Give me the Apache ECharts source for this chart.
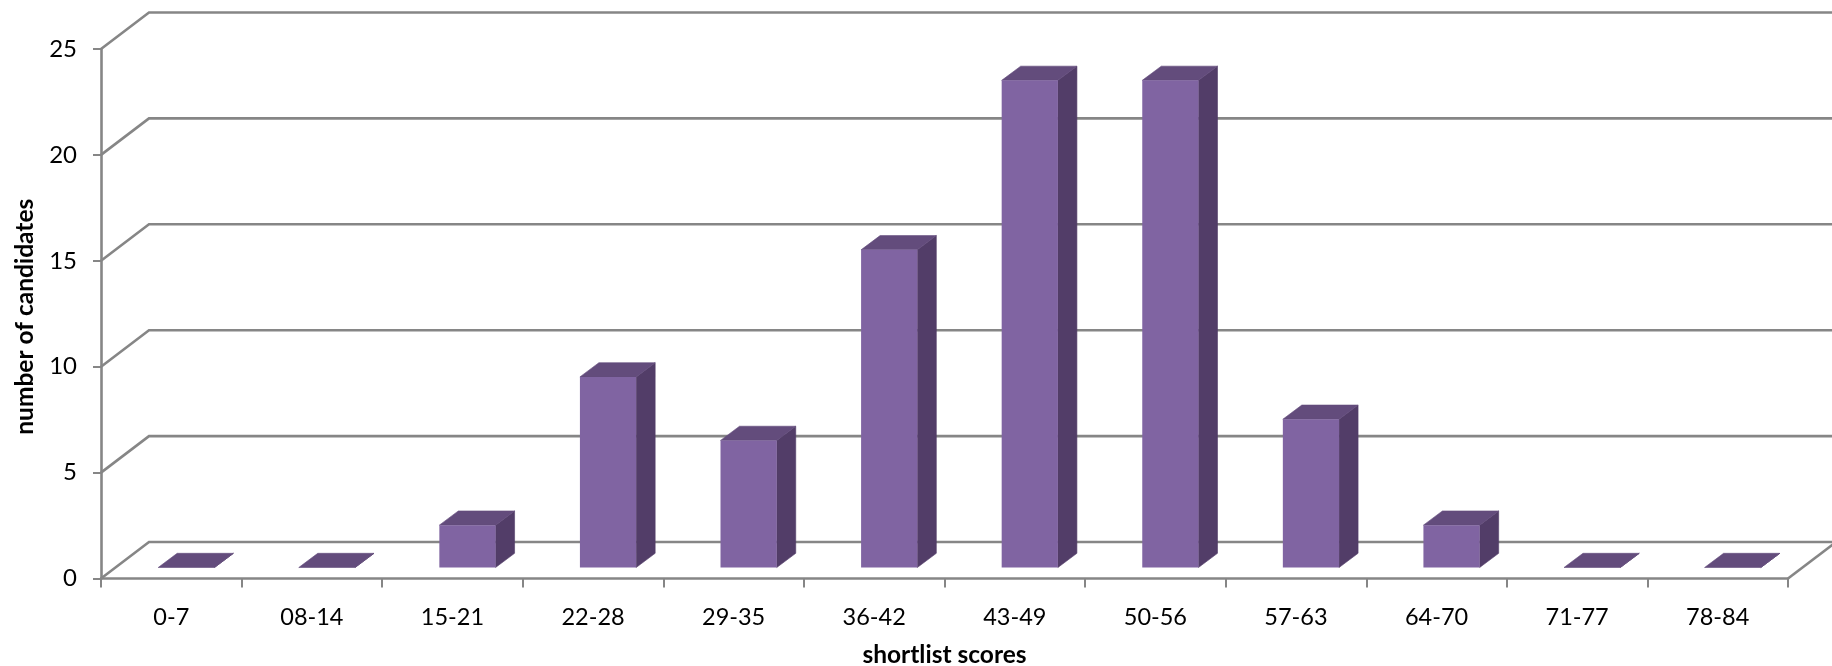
<!DOCTYPE html>
<html>
<head>
<meta charset="utf-8">
<style>html,body{margin:0;padding:0;background:#fff}#c{width:1832px;height:666px}</style>
<script src="https://cdn.jsdelivr.net/npm/echarts@6/dist/echarts.min.js"></script>
</head>
<body>
<div id="c"></div>
<script>
const categories = ['0-7','08-14','15-21','22-28','29-35','36-42','43-49','50-56','57-63','64-70','71-77','78-84'];
const candidates = [0,0,2,9,6,15,23,23,7,2,0,0];
const yTicks = [0,5,10,15,20,25];

const FONT = 'Lato';
const AXIS = '#868686';
const FRONT = '#8064A2', TOP = '#634C7C', SIDE = '#523D68';
// 3D projection of the chart box, in pixels
const WALL_DX = 48, WALL_DY = 36.5;
const BAR_DX = 19, BAR_DY = 14.2, BAR_SHIFT_X = 15, BAR_SHIFT_Y = 11, BAR_RATIO = 0.4;

const chart = echarts.init(document.getElementById('c'), null, {renderer:'canvas'});

function renderWall(params, api){
  const cs = params.coordSys;
  const v = api.value(1);
  const y = api.coord([0, v])[1];
  const x0 = cs.x, x1 = cs.x + cs.width;
  const style = {stroke: AXIS, lineWidth: 2.6, fill: 'none'};
  const kids = [{
    type:'polyline', silent:true,
    shape:{points:[[x0,y],[x0+WALL_DX,y-WALL_DY],[x1+WALL_DX,y-WALL_DY]]},
    style
  }];
  if (v === 0) kids.push({
    type:'line', silent:true,
    shape:{x1:x1,y1:y,x2:x1+WALL_DX,y2:y-WALL_DY}, style
  });
  return {type:'group', children:kids};
}

function renderBar(params, api){
  const c = api.coord([api.value(0), api.value(1)]);
  const b = api.coord([api.value(0), 0]);
  const w = api.size([1,0])[0] * BAR_RATIO;
  const l = c[0] - w/2 + BAR_SHIFT_X, r = l + w;
  const t = c[1] - BAR_SHIFT_Y, bt = b[1] - BAR_SHIFT_Y;
  return {type:'group', children:[
    {type:'polygon', shape:{points:[[r,t],[r+BAR_DX,t-BAR_DY],[r+BAR_DX,bt-BAR_DY],[r,bt]]}, style:{fill:SIDE,stroke:SIDE,lineWidth:0.6}},
    {type:'polygon', shape:{points:[[l,t],[l+BAR_DX,t-BAR_DY],[r+BAR_DX,t-BAR_DY],[r,t]]}, style:{fill:TOP,stroke:TOP,lineWidth:0.6}},
    {type:'rect', shape:{x:l,y:t,width:w,height:bt-t}, style:{fill:FRONT}}
  ]};
}

chart.setOption({
  animation:false,
  backgroundColor:'#fff',
  grid:{left:101,right:44,top:49,bottom:87.5,outerBoundsMode:'none'},
  xAxis:{
    type:'category', data:categories,
    name:'shortlist scores', nameLocation:'middle', nameGap:64,
    nameTextStyle:{fontFamily:FONT,fontWeight:'bold',fontSize:24.5,color:'#000'},
    axisLine:{onZero:false,lineStyle:{color:AXIS,width:2.6}},
    axisTick:{show:true,alignWithLabel:false,length:9,lineStyle:{color:AXIS,width:2}},
    axisLabel:{fontFamily:FONT,fontSize:23.5,color:'#000',margin:27,interval:0},
    splitLine:{show:false}
  },
  yAxis:{
    type:'value', min:0, max:25, interval:5,
    name:'number of candidates', nameLocation:'middle', nameGap:63, nameRotate:90,
    nameTextStyle:{fontFamily:FONT,fontWeight:'bold',fontSize:24.5,color:'#000',padding:[0,6,0,0]},
    axisLine:{show:true,lineStyle:{color:AXIS,width:2.6}},
    axisTick:{show:true,length:8,lineStyle:{color:AXIS,width:2}},
    axisLabel:{fontFamily:FONT,fontSize:24,color:'#000',margin:24,padding:[4,0,0,0]},
    splitLine:{show:false}
  },
  series:[
    {type:'custom', silent:true, z:1, clip:false, renderItem:renderWall,
     data:yTicks.map(v=>[0,v]), encode:{x:0,y:1}},
    {type:'custom', silent:true, z:3, clip:false, renderItem:renderBar,
     data:candidates.map((v,i)=>[i,v]), encode:{x:0,y:1}}
  ]
});
</script>
</body>
</html>
